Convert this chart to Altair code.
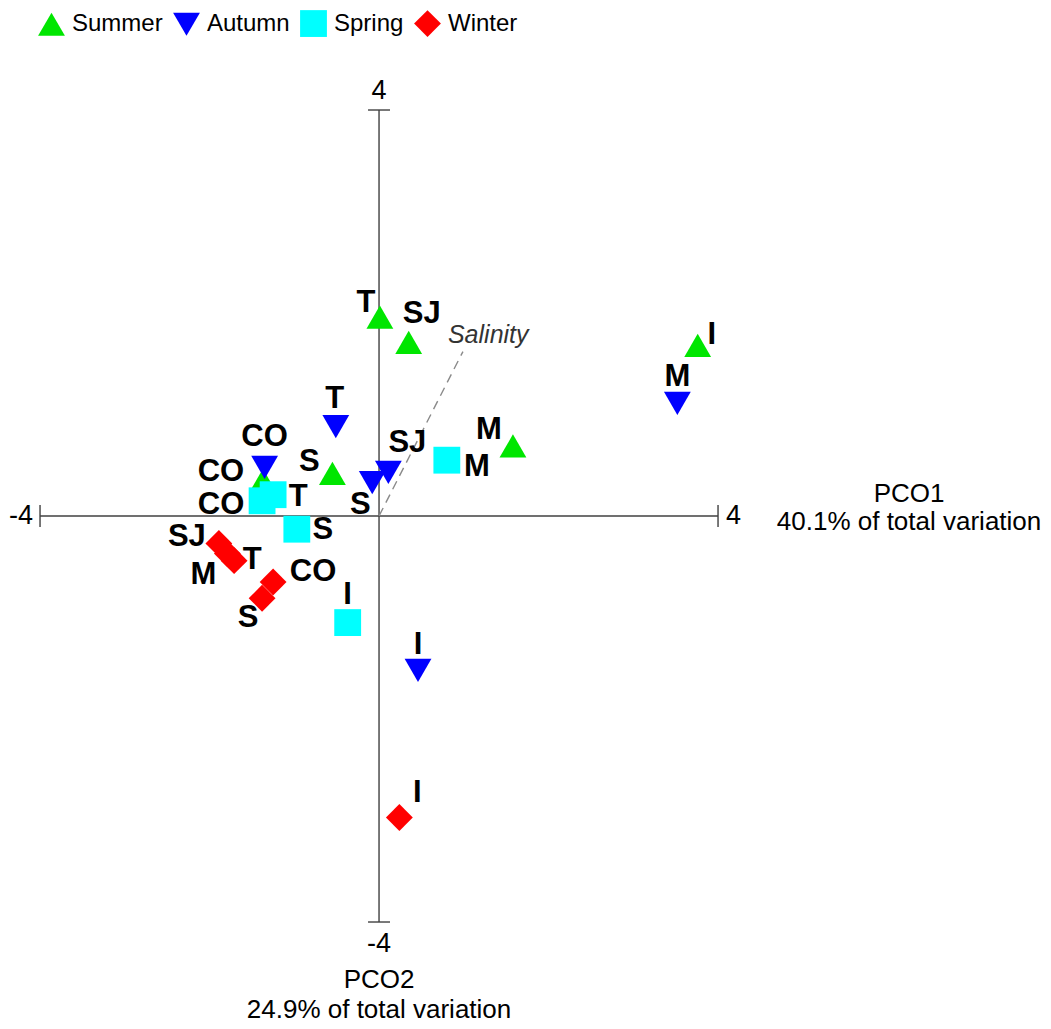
import altair as alt
import pandas as pd

# ---------------- data ----------------
seasons = ["Summer", "Autumn", "Spring", "Winter"]
season_colors = ["#00e600", "#0000ff", "#00ffff", "#ff0000"]
season_shapes = ["triangle-up", "triangle-down", "square", "diamond"]

summer_sites = ["T", "SJ", "I", "M", "S", "CO"]
summer_pco1 = [0.01, 0.35, 3.76, 1.58, -0.55, -1.37]
summer_pco2 = [1.96, 1.71, 1.68, 0.69, 0.42, 0.35]

spring_sites = ["M", "T", "CO", "S", "I"]
spring_pco1 = [0.80, -1.25, -1.38, -0.97, -0.37]
spring_pco2 = [0.55, 0.21, 0.15, -0.13, -1.05]

autumn_sites = ["M", "T", "CO", "SJ", "S", "I"]
autumn_pco1 = [3.52, -0.51, -1.35, 0.11, -0.08, 0.46]
autumn_pco2 = [1.11, 0.88, 0.48, 0.43, 0.33, -1.52]

winter_sites = ["SJ", "M", "T", "CO", "S", "I"]
winter_pco1 = [-1.89, -1.79, -1.71, -1.25, -1.38, 0.24]
winter_pco2 = [-0.27, -0.37, -0.44, -0.65, -0.81, -2.97]

salinity_pco1 = [0.99]
salinity_pco2 = [1.62]

axis_limits = [-4, 4]
pco1_title = "PCO1\n40.1% of total variation"
pco2_title = "PCO2\n24.9% of total variation"

# label offsets in pixels (style): (dx, dy) from marker centre
summer_lab = [(-14, -14), (13, -28), (14, -10), (-24, -16), (-23, -11), (-42, -8)]
spring_lab = [(30, 7), (25, 2), (-41, 4), (26, 1), (0, -28)]
autumn_lab = [(0, -26), (-1, -28), (0, -30), (19, -29), (-12, 22), (0, -25)]
winter_lab = [(-32, -6), (-24, 21), (18, -1), (40, -10), (-14, 20), (18, -24)]

# ---------------- layout ----------------
W, H = 1035, 1020
XS, YS = 84.75, 101.5          # pixels per unit
XDOM = [-4.378, -4.378 + W / XS]
YDOM = [5.005 - H / YS, 5.005]
FONT = "Liberation Sans"

rows = []
for season, sites, xs, ys, labs in [
    ("Summer", summer_sites, summer_pco1, summer_pco2, summer_lab),
    ("Spring", spring_sites, spring_pco1, spring_pco2, spring_lab),
    ("Autumn", autumn_sites, autumn_pco1, autumn_pco2, autumn_lab),
    ("Winter", winter_sites, winter_pco1, winter_pco2, winter_lab),
]:
    for s, x, y, (dx, dy) in zip(sites, xs, ys, labs):
        rows.append({"season": season, "site": s, "x": x, "y": y,
                     "lx": x + dx / XS, "ly": y - dy / YS})
df = pd.DataFrame(rows)

xsc = alt.Scale(domain=XDOM, nice=False, zero=False)
ysc = alt.Scale(domain=YDOM, nice=False, zero=False)
X = lambda f: alt.X(f, type="quantitative", scale=xsc, axis=None)
Y = lambda f: alt.Y(f, type="quantitative", scale=ysc, axis=None)

axis_col = "#404040"

haxis = pd.DataFrame({"x": [axis_limits[0]], "x2": [axis_limits[1]], "y": [0]})
vaxis = pd.DataFrame({"x": [0], "y": [axis_limits[0]], "y2": [axis_limits[1]]})

h_line = alt.Chart(haxis).mark_rule(color=axis_col, strokeWidth=1.4).encode(
    x=X("x"), x2="x2", y=Y("y"))
v_line = alt.Chart(vaxis).mark_rule(color=axis_col, strokeWidth=1.4).encode(
    x=X("x"), y=Y("y"), y2="y2")

hticks_df = pd.DataFrame({"x": axis_limits, "y": [0, 0]})
vticks_df = pd.DataFrame({"x": [0, 0], "y": axis_limits})
h_ticks = alt.Chart(hticks_df).mark_tick(orient="vertical", size=22, thickness=1.4,
                                         color=axis_col, opacity=1).encode(x=X("x"), y=Y("y"))
v_ticks = alt.Chart(vticks_df).mark_tick(orient="horizontal", size=22, thickness=1.4,
                                         color=axis_col, opacity=1).encode(x=X("x"), y=Y("y"))

tick_font = dict(font=FONT, fontSize=27, color="black")
lab_left = alt.Chart(pd.DataFrame({"x": [axis_limits[0]], "y": [0], "t": [str(axis_limits[0])]})).mark_text(
    align="right", baseline="middle", dx=-7, **tick_font).encode(x=X("x"), y=Y("y"), text="t")
lab_right = alt.Chart(pd.DataFrame({"x": [axis_limits[1]], "y": [0], "t": [str(axis_limits[1])]})).mark_text(
    align="left", baseline="middle", dx=8, **tick_font).encode(x=X("x"), y=Y("y"), text="t")
lab_top = alt.Chart(pd.DataFrame({"x": [0], "y": [axis_limits[1]], "t": [str(axis_limits[1])]})).mark_text(
    align="center", baseline="alphabetic", dy=-11, **tick_font).encode(x=X("x"), y=Y("y"), text="t")
lab_bot = alt.Chart(pd.DataFrame({"x": [0], "y": [axis_limits[0]], "t": [str(axis_limits[0])]})).mark_text(
    align="center", baseline="alphabetic", dy=30, **tick_font).encode(x=X("x"), y=Y("y"), text="t")

title_font = dict(font=FONT, fontSize=26, color="black")
t1 = alt.Chart(pd.DataFrame({"x": [axis_limits[1]], "y": [0], "t": [pco1_title]})).mark_text(
    align="center", baseline="alphabetic", dx=191, dy=-14, lineBreak="\n", lineHeight=28,
    **title_font).encode(x=X("x"), y=Y("y"), text="t")
t2 = alt.Chart(pd.DataFrame({"x": [0], "y": [axis_limits[0]], "t": [pco2_title]})).mark_text(
    align="center", baseline="alphabetic", dy=66, lineBreak="\n", lineHeight=30,
    **title_font).encode(x=X("x"), y=Y("y"), text="t")

sal = pd.DataFrame({"x": [0], "y": [0], "x2": salinity_pco1, "y2": salinity_pco2, "t": ["Salinity"]})
sal_line = alt.Chart(sal).mark_rule(color="#8a8a8a", strokeWidth=1.4, strokeDash=[9, 6]).encode(
    x=X("x"), y=Y("y"), x2="x2", y2="y2")
sal_text = alt.Chart(sal).mark_text(align="left", baseline="alphabetic", dx=-15, dy=-9,
                                    font=FONT, fontSize=25, fontStyle="italic", color="#333333").encode(
    x=X("x2"), y=Y("y2"), text="t")

points = alt.Chart(df).mark_point(filled=True, opacity=1, strokeWidth=0).encode(
    x=X("x"), y=Y("y"),
    color=alt.Color("season:N", scale=alt.Scale(domain=seasons, range=season_colors),
                    legend=alt.Legend(title=None, orient="none", legendX=30, legendY=2,
                                      direction="horizontal", columns=4,
                                      labelFont=FONT, labelFontSize=24, labelColor="black",
                                      symbolSize=500, symbolStrokeWidth=0, symbolOpacity=1,
                                      columnPadding=10, labelOffset=7, padding=0)),
    shape=alt.Shape("season:N", scale=alt.Scale(domain=seasons, range=season_shapes)),
    size=alt.Size("season:N", scale=alt.Scale(domain=seasons, range=[720, 720, 480, 620]), legend=None),
)

labels = alt.Chart(df).mark_text(font=FONT, fontSize=31, fontWeight="bold", color="black",
                                 align="center", baseline="middle").encode(
    x=X("lx"), y=Y("ly"), text="site")

chart = alt.layer(
    h_line, v_line, h_ticks, v_ticks, lab_left, lab_right, lab_top, lab_bot, t1, t2,
    sal_line, sal_text, points, labels
).properties(width=W, height=H, padding=0, autosize=alt.AutoSizeParams(type="none")
).configure_view(stroke=None)

chart.save("out.html", embed_options={"renderer": "svg", "actions": False})
